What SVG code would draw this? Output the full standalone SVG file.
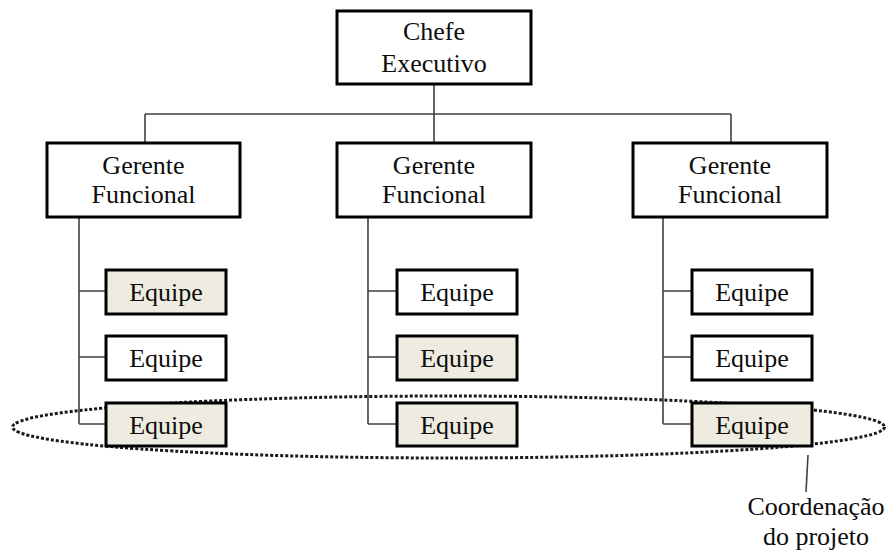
<svg xmlns="http://www.w3.org/2000/svg" width="886" height="552" viewBox="0 0 886 552">
  <style>
    .box { fill: #ffffff; stroke: #000000; stroke-width: 3; }
    .shade { fill: #eeece1; }
    .wire { fill: none; stroke: #404040; stroke-width: 1.6; }
    .ring { fill: none; stroke: #1a1a1a; stroke-width: 3; stroke-dasharray: 3 2; }
    text { font-family: "Liberation Serif", "Times New Roman", serif; font-size: 26px; fill: #0d0d0d; text-anchor: middle; }
  </style>

  <!-- project coordination ring (behind everything) -->
  <ellipse id="coordenacao-ring" class="ring" cx="448.5" cy="427" rx="436" ry="31"/>

  <g id="connectors">
    <path class="wire" d="M434 84 V114 M145 114 H731 M145 114 V143 M434 114 V143 M731 114 V143"/>
    <path class="wire" d="M79 217 V424 M79 291 H106 M79 357 H106 M79 424 H106"/>
    <path class="wire" d="M368 217 V424 M368 291 H397 M368 357 H397 M368 424 H397"/>
    <path class="wire" d="M663 217 V424 M663 291 H692 M663 357 H692 M663 424 H692"/>
    <path class="wire" d="M808 455 L806 492"/>
  </g>

  <g id="chefe">
    <rect class="box" x="337" y="11" width="194" height="73"/>
    <text x="434" y="40">Chefe</text>
    <text x="434" y="72">Executivo</text>
  </g>

  <g id="gerente-1">
    <rect class="box" x="47" y="143" width="193" height="74"/>
    <text x="143.5" y="174">Gerente</text>
    <text x="143.5" y="203">Funcional</text>
  </g>
  <g id="gerente-2">
    <rect class="box" x="337" y="143" width="194" height="74"/>
    <text x="434" y="174">Gerente</text>
    <text x="434" y="203">Funcional</text>
  </g>
  <g id="gerente-3">
    <rect class="box" x="633" y="143" width="194" height="74"/>
    <text x="730" y="174">Gerente</text>
    <text x="730" y="203">Funcional</text>
  </g>

  <g id="equipe-1a"><rect class="box shade" x="106" y="270" width="120" height="44"/><text x="166" y="301">Equipe</text></g>
  <g id="equipe-1b"><rect class="box" x="106" y="336" width="120" height="44"/><text x="166" y="367">Equipe</text></g>
  <g id="equipe-1c"><rect class="box shade" x="106" y="403" width="120" height="43"/><text x="166" y="434">Equipe</text></g>

  <g id="equipe-2a"><rect class="box" x="397" y="270" width="120" height="44"/><text x="457" y="301">Equipe</text></g>
  <g id="equipe-2b"><rect class="box shade" x="397" y="336" width="120" height="44"/><text x="457" y="367">Equipe</text></g>
  <g id="equipe-2c"><rect class="box shade" x="397" y="403" width="120" height="43"/><text x="457" y="434">Equipe</text></g>

  <g id="equipe-3a"><rect class="box" x="692" y="270" width="120" height="44"/><text x="752" y="301">Equipe</text></g>
  <g id="equipe-3b"><rect class="box" x="692" y="336" width="120" height="44"/><text x="752" y="367">Equipe</text></g>
  <g id="equipe-3c"><rect class="box shade" x="692" y="403" width="120" height="43"/><text x="752" y="434">Equipe</text></g>

  <g id="legenda">
    <text x="816" y="515">Coordenação</text>
    <text x="816" y="545">do projeto</text>
  </g>
</svg>
